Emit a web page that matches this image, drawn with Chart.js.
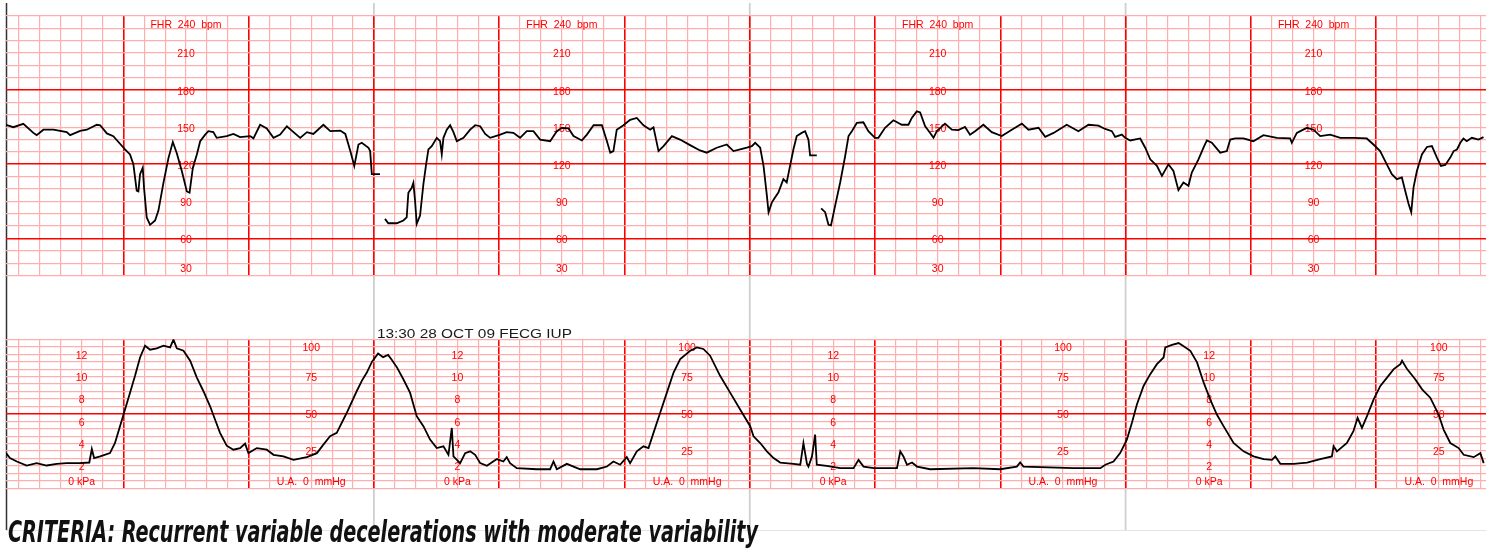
<!DOCTYPE html>
<html><head><meta charset="utf-8">
<script src="https://cdn.jsdelivr.net/npm/chart.js@4"></script>
<style>
html,body{margin:0;padding:0;background:#fff;}
#wrap{position:relative;width:1496px;height:552px;overflow:hidden;}
canvas{position:absolute;left:0;top:0;}
</style></head><body>
<div id="wrap"><canvas id="fhr" width="1496" height="552"></canvas><canvas id="ua" width="1496" height="552"></canvas></div>
<script>
// ---- data (time in seconds from start of first page) ----
const fhrTime = [3.8,7.3,12.1,16.9,18.5,21.7,26.5,32.9,34.5,39.3,42.5,47.3,48.9,52.1,55.2,58.4,60.8,63.2,64.8,66.4,67.2,68,69.3,69.9,71.2,72.8,75.2,76.8,79.2,81.6,83.7,85.6,88,90.4,91.7,93.3,95.2,96.8,99.2,100.7,103.1,104.7,109.5,112.7,115.9,120.7,122.3,125.5,128.7,131.9,135.1,138.3,141.5,144.7,147.9,151,155.8,159.1,163.9,166.3,168.7,170.6,172.6,174.2,177.4,178.2,179,182.9,184.1,185.3,186.9,190.9,194.1,195.7,196.5,198.1,198.9,199.7,200.5,202.1,203.7,205,206.1,207.7,210.1,211.7,212.5,213.3,214.9,216.5,218.1,219.7,222.9,226.1,228.5,230.9,233.3,235.7,240.5,243.6,246.8,250,253.2,256.4,259.6,264.4,267.6,270,273.2,275.6,279.6,282,285.2,289.2,291.6,293.2,294.7,296.3,299.5,302.7,305.9,309.1,312.3,313.9,316.3,318.7,322.7,326.6,331.4,336.2,339.4,344.2,349,352.2,355.4,358.6,361,362.6,365,366.6,368.2,369,370.6,372.1,373.7,376.1,377.7,379.3,380.9,382.5,384.9,386.5,388.1,388.9,392.1,393.2,394.2,396.1,397.7,398.9,400.9,403.3,405.7,407.3,408.9,411.3,414.4,416.8,420,421.6,424.8,428.8,432.8,436,437.6,440,441.6,444,446.4,448,449.6,453.5,456.8,459.9,463.1,465.5,467.9,471.9,475.9,480.7,485.5,490.3,493.5,498.3,501.5,505.5,511.8,517.4,522.2,527,530.2,533.4,535,538.2,539.8,542.2,547,549.4,551.8,555,557.4,560.5,562.9,565.3,567.7,570.1,571.7,574.9,577.3,578.9,581.3,585.3,588.5,590.1,592.5,596.4,601.2,606,612.4,618.8,619.6,622,626.8,630,633.2,638,642.8,649.1,655.5,658.7,661.9,665.1,667.5,669.9,672.3,673.9,675.5,676.8,677.9,679.5,681.9,684.3,686.7,689.1,691,693.1,695.5,697.1,698.7,700.3,701.8,703.4,705.8,709,711.4];
const fhrBpm = [152,150,152.7,145.4,143.6,148,148,146,143.6,147,148,152,151.6,145,142.7,136.6,132,128,120,98.6,98,112,117.3,101,77,71,74.5,82.5,105,125,138,129,114.6,98,97,117.3,128,138.7,144,146.8,146,141.4,142.8,144.6,142,142.8,141,152,149,141.4,144,150.8,146,141.4,146,144.6,152,146.8,147.3,144.6,130.7,118.7,136,137.4,133.4,130.7,112,112,null,75.8,72.3,72.3,74.5,77,97,101,105,90.5,71.8,78.5,104,120,132,134.7,141.4,138.7,128,141.4,148,151.6,146,138.7,141.4,148,151.6,150.8,144.6,141.4,144,146,145.4,141.4,146.8,146.8,140,138.7,146.8,149.5,149,142.8,139.3,144,151.6,151.6,138.7,129.4,130.7,148,151.6,156,157.5,151.6,148,150,130.7,134.7,142.8,140,135.5,131.2,129.4,133.4,136,130.7,132,133.4,134.7,137.4,133.4,118.7,94.6,81.2,89.2,93.2,97.2,108,105.3,118.7,132,142.8,145.4,146.8,140,127.2,127.2,null,84.4,81.2,71,70.5,86.5,105.3,126.7,142.8,146.8,153.5,154,146.8,141.4,141.4,149.5,155.6,152,152,157.5,162.8,162,150.8,145.4,141.4,146.8,152.9,148,147.6,150.2,144,146.8,152,146,142.8,148,152.9,148,149.5,142.2,145.4,152,146.8,152,151.3,148.6,146.8,142.2,144,141.4,139.3,140.9,133.4,124,118.7,110.6,120,114.6,99.1,105.3,102.6,113.3,124,133.4,139.3,137.4,129.4,130.7,140,140.9,140.9,138.7,143.6,141.4,140.9,137.4,145.4,149.5,148,142.8,144,141.4,141.4,140.9,136,130.7,120,112,108,109.3,98.6,88,81.2,101.3,114.6,128,134,134.7,125.4,118.7,119.5,125.4,130.7,132,137.4,140.9,138.7,141.4,140,142];
const uaTime = [3.8,5.7,9,13.7,18.5,23.3,28.1,32.9,39.3,43.7,44.9,46,48.9,53.6,56,58.4,60.8,63.2,65.6,68,70.4,72.8,76,79.2,82.4,84,85.6,88.8,92,95.2,98.3,101.5,103.9,106.3,109.5,112.7,115.9,118.3,119.9,123.9,128.7,131.9,136.7,141.5,147.9,152.7,155.8,159,162.2,167,171.8,174.2,176.6,179.1,182,184.4,186.8,188.7,191.1,194.1,197.3,200.5,203.7,206.9,210.1,213.3,215.7,217.3,218.1,221.3,223.7,226.1,228.5,230.9,234.1,238.9,242,243.6,245.2,248.4,258,264.4,266,267.6,272.4,275.6,278.8,286.8,291.6,294.7,297.9,301.1,302.7,305.9,309.1,311.5,313.9,317.1,320.3,323.5,326.7,331.5,334.7,337.8,341,345.8,350.6,355.4,360.2,361.8,365,368.2,371.4,374.6,380.9,384.2,385.7,387.4,388.1,389.8,391.3,392.1,396.9,403.3,409.7,412.1,414.5,419.3,430.5,432.1,433.6,435.3,437.7,440.1,446.4,467.1,479.9,487.9,489.5,491.1,515.1,527.9,530.3,534.2,537.4,540.6,543,545.4,548.6,551.8,555,558.2,559,562.2,565.4,567.8,571,574.2,577.4,580.5,583.7,586.9,591.7,596.5,601.3,606.1,610.1,611.7,614.1,620.5,626.9,633.2,638.8,639.6,641.2,646,649.1,651.1,653.2,655.6,658.8,662,665.2,668.4,671.6,672.4,674.8,678.7,682,685.9,687.5,689.9,692.3,695.5,699.5,701.9,706.7,709.9,711.5];
const uaMmHg = [23.6,20.3,18,15.3,16.9,15.3,16.4,16.9,16.9,17.3,26.4,20.3,21.4,23.6,30.4,41.7,52.9,64.2,75.5,87.8,95.7,93,93.9,95.7,94.6,99.8,93.9,92.3,85.6,74.3,65.3,55.2,46.2,37.2,28.6,25.9,27,30,23.6,27,25.9,22.5,21.4,19.1,20.9,23.6,29.3,34.9,37.2,50.7,65.3,72.1,77.7,85,90.5,88,89.5,86,81,73.2,64.2,48.4,41.7,32.7,27,28.2,22.5,40.5,21.4,16.9,23.6,24.8,22.5,16.9,15.1,19.6,18,20.9,16.9,13.5,12.8,12.8,18,12.8,16.4,14.6,12.8,12.8,14.6,18,15.8,20.9,16.9,24.8,28.2,27,37.2,50.7,64.2,77.7,86.7,92.3,94.6,93.5,89,75.5,64.2,52.9,41.7,34.9,30.4,24.8,20.3,17.3,16.4,15.8,30.4,16.4,14.6,21.4,36,15.8,15.1,13.5,13.5,19.1,14.6,13.5,13.5,24.8,21.4,15.8,17.3,14.6,12.8,13.5,12.8,14.6,17.3,14.6,13.5,13.5,15.8,18,23.6,32.7,43.9,56.3,68.7,76.6,83.3,87.8,94.6,96.2,97.5,95.3,92.3,84.5,70.9,59.7,49.5,41.7,30.4,24.8,21.4,19.6,19.1,21.4,16.4,16.4,17.3,19.6,21.4,28.2,24.8,30.4,38.3,47.3,40.5,48.4,59.7,68.7,74.3,80,83.3,85.6,80,73.2,66.4,60.8,56.3,49.5,39.4,30.4,27,22.5,20.9,23.6,16.9];
const fhrScaleLabels = [30,60,90,120,150,180,210];
const fhrTopLabel = 'FHR  240  bpm';
const kpaLabels = [2,4,6,8,10,12];
const kpaZeroLabel = '0 kPa';
const mmHgLabels = [25,50,75,100];
const mmHgZeroLabel = 'U.A.  0  mmHg';
const pageStarts = [0,180,360,540];
const stampText = '13:30 28 OCT 09 FECG IUP';
const captionText = 'CRITERIA: Recurrent variable decelerations with moderate variability';

// ---- styling ----
const MAJOR = '#ff0000', MINOR = '#ffaeae';
const KPA_TO_MMHG = 7.5;

function xScale() {
  return {
    type: 'linear', min: 3.8, max: 712.6, bounds: 'data',
    border: { display: false },
    ticks: { display: false, autoSkip: false },
    grid: {
      drawTicks: false,
      color: c => (c.tick && c.tick.value % 60 === 0) ? MAJOR : MINOR,
      lineWidth: c => (c.tick && c.tick.value % 60 === 0) ? 1.6 : 1.2
    },
    afterBuildTicks: s => { const t = []; for (let v = 10; v <= 710; v += 10) t.push({ value: v }); s.ticks = t; }
  };
}
function yScale(min, max, step, isMajor) {
  return {
    type: 'linear', min, max, bounds: 'data',
    border: { display: false },
    ticks: { display: false, autoSkip: false },
    grid: {
      drawTicks: false,
      color: c => (c.tick && isMajor(c.tick.value)) ? MAJOR : MINOR,
      lineWidth: c => (c.tick && isMajor(c.tick.value)) ? 1.6 : 1.2
    },
    afterBuildTicks: s => { const t = []; for (let v = min; v <= max; v += step) t.push({ value: v }); s.ticks = t; }
  };
}

const gridLabels = {
  id: 'gridLabels',
  beforeDatasetsDraw(chart, args, o) {
    const { ctx, chartArea: a } = chart; const xs = chart.scales.x, ys = chart.scales.y;
    ctx.save();
    ctx.fillStyle = '#ff0000';
    ctx.font = '10.5px "Liberation Sans", Arial, sans-serif';
    ctx.textAlign = 'center'; ctx.textBaseline = 'middle';
    const yFor = v => Math.min(Math.max(ys.getPixelForValue(v) + 1.5, a.top + 9), a.bottom - 6);
    for (const p of pageStarts) for (const col of o.columns) {
      const px = xs.getPixelForValue(p + col.offset);
      for (const l of col.labels) ctx.fillText(l.text, px, yFor(l.value));
    }
    ctx.restore();
  }
};

const decorations = {
  id: 'decorations',
  beforeDraw(chart) {
    const { ctx, chartArea: a } = chart; const xs = chart.scales.x;
    ctx.save();
    ctx.strokeStyle = '#e3e3ea'; ctx.lineWidth = 1;
    ctx.beginPath(); ctx.moveTo(a.left, 530.5); ctx.lineTo(a.right, 530.5); ctx.stroke();
    ctx.strokeStyle = '#cfcfcf'; ctx.lineWidth = 1.8;
    for (const p of pageStarts.slice(1)) {
      const px = xs.getPixelForValue(p);
      ctx.beginPath(); ctx.moveTo(px, 3); ctx.lineTo(px, 530); ctx.stroke();
    }
    ctx.strokeStyle = '#333'; ctx.lineWidth = 1.5;
    ctx.beginPath(); ctx.moveTo(a.left + 0.5, 3); ctx.lineTo(a.left + 0.5, 530); ctx.stroke();
    ctx.restore();
  }
};

const texts = {
  id: 'texts',
  afterDraw(chart) {
    const { ctx, chartArea: a } = chart; const xs = chart.scales.x;
    ctx.save();
    ctx.fillStyle = '#1a1a1a';
    ctx.font = '12.5px "Liberation Sans", Arial, sans-serif';
    ctx.textAlign = 'left'; ctx.textBaseline = 'alphabetic';
    const sx = xs.getPixelForValue(pageStarts[1]) + 3, sy = a.top - 1;
    let w = ctx.measureText(stampText).width;
    ctx.save(); ctx.translate(sx, sy); ctx.scale(195 / w, 1); ctx.fillText(stampText, 0, 0); ctx.restore();
    ctx.fillStyle = '#111';
    ctx.font = 'italic bold 30px "Liberation Sans Narrow", "DejaVu Sans Condensed", "Liberation Sans", sans-serif';
    w = ctx.measureText(captionText).width;
    ctx.save(); ctx.translate(8, 541.5); ctx.scale(750 / w, 1); ctx.fillText(captionText, 0, 0); ctx.restore();
    ctx.restore();
  }
};

Chart.defaults.animation = false;

new Chart(document.getElementById('fhr'), {
  type: 'line',
  data: { datasets: [{
    data: fhrTime.map((t, i) => ({ x: t, y: fhrBpm[i] })),
    borderColor: '#000', borderWidth: 1.8, pointRadius: 0, tension: 0, spanGaps: false, fill: false
  }] },
  options: {
    responsive: false, devicePixelRatio: 1, animation: false,
    layout: { padding: { left: 6, right: 10, top: 16, bottom: 276.5 } },
    scales: { x: xScale(), y: yScale(30, 240, 10, v => v % 60 === 0 && v !== 240) },
    plugins: {
      legend: { display: false }, tooltip: { enabled: false },
      gridLabels: { columns: [{ offset: 90, labels: fhrScaleLabels.map(v => ({ text: String(v), value: v })).concat([{ text: fhrTopLabel, value: 240 }]) }] }
    }
  },
  plugins: [decorations, gridLabels]
});

new Chart(document.getElementById('ua'), {
  type: 'line',
  data: { datasets: [{
    data: uaTime.map((t, i) => ({ x: t, y: uaMmHg[i] })),
    borderColor: '#000', borderWidth: 1.8, pointRadius: 0, tension: 0, fill: false
  }] },
  options: {
    responsive: false, devicePixelRatio: 1, animation: false,
    layout: { padding: { left: 6, right: 10, top: 339.3, bottom: 63.7 } },
    scales: { x: xScale(), y: yScale(0, 100, 5, v => v === 50) },
    plugins: {
      legend: { display: false }, tooltip: { enabled: false },
      gridLabels: { columns: [
        { offset: 40, labels: kpaLabels.map(v => ({ text: String(v), value: v * KPA_TO_MMHG })).concat([{ text: kpaZeroLabel, value: 0 }]) },
        { offset: 150, labels: mmHgLabels.map(v => ({ text: String(v), value: v })).concat([{ text: mmHgZeroLabel, value: 0 }]) }
      ] }
    }
  },
  plugins: [gridLabels, texts]
});
</script>
</body></html>
